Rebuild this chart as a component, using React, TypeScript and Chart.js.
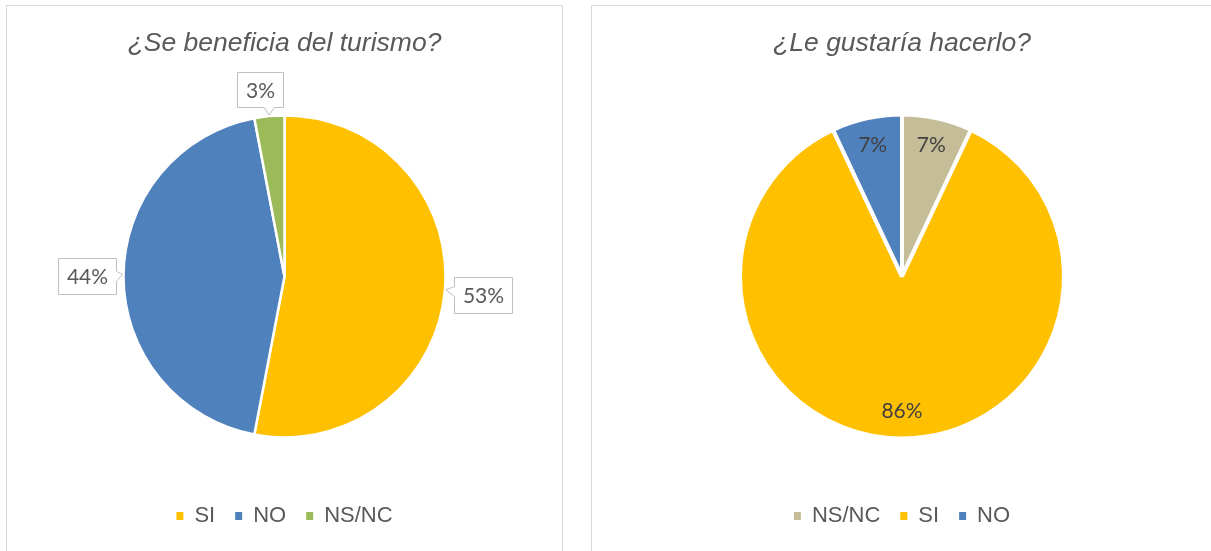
import React, { useEffect, useRef } from "react";
import { Chart, registerables } from "chart.js";

Chart.register(...registerables);

const leftTitle = "¿Se beneficia del turismo?";
const leftLabels = ["SI", "NO", "NS/NC"];
const leftValues = [53, 44, 3];
const leftColors = ["#FFC000", "#4F81BD", "#9BBB59"];

const rightTitle = "¿Le gustaría hacerlo?";
const rightLabels = ["NS/NC", "SI", "NO"];
const rightValues = [7, 86, 7];
const rightColors = ["#C4BD97", "#FFC000", "#4F81BD"];

const TEXT_GRAY = "#595959";
const LABEL_FONT = "21px Lato, 'Liberation Sans', sans-serif";

const calloutPlugin = {
  id: "calloutLabels",
  afterDatasetsDraw(chart: any) {
    const ctx = chart.ctx;
    const meta = chart.getDatasetMeta(0);
    const values = chart.data.datasets[0].data;
    ctx.save();
    ctx.font = LABEL_FONT;
    meta.data.forEach((arc: any, i: number) => {
      const p = arc.getProps(["x", "y", "startAngle", "endAngle", "outerRadius"], true);
      const mid = (p.startAngle + p.endAngle) / 2;
      const dx = Math.cos(mid);
      const dy = Math.sin(mid);
      const tipX = p.x + dx * (p.outerRadius + 1);
      const tipY = p.y + dy * (p.outerRadius + 1);
      const text = values[i] + "%";
      const tw = ctx.measureText(text).width;
      const w = Math.round(tw + 17);
      const horizontal = Math.abs(dx) > Math.abs(dy);
      const h = horizontal ? 36 : 35;
      const gap = horizontal ? 7 : 6;
      const proj = Math.abs(dx) * w / 2 + Math.abs(dy) * h / 2;
      let cx = tipX + dx * (gap + proj);
      const cy = tipY + dy * (gap + proj);
      if (!horizontal) cx += dx * w * 1.6;
      const x0 = Math.round(cx - w / 2) + 0.5;
      const y0 = Math.round(cy - h / 2) + 0.5;
      const x1 = x0 + w;
      const y1 = y0 + h;
      const nh = 5;
      ctx.beginPath();
      if (horizontal) {
        const ny = Math.min(Math.max(tipY, y0 + 8 + nh), y1 - 8 - nh);
        if (dx > 0) {
          ctx.moveTo(x0, y0);
          ctx.lineTo(x1, y0);
          ctx.lineTo(x1, y1);
          ctx.lineTo(x0, y1);
          ctx.lineTo(x0, ny + nh);
          ctx.lineTo(tipX, ny - 2);
          ctx.lineTo(x0, ny - nh);
        } else {
          ctx.moveTo(x0, y0);
          ctx.lineTo(x1, y0);
          ctx.lineTo(x1, ny - nh);
          ctx.lineTo(tipX, ny - 2);
          ctx.lineTo(x1, ny + nh);
          ctx.lineTo(x1, y1);
          ctx.lineTo(x0, y1);
        }
      } else {
        const nx = Math.min(Math.max(tipX, x0 + 8 + nh), x1 - 8 - nh);
        if (dy < 0) {
          ctx.moveTo(x0, y0);
          ctx.lineTo(x1, y0);
          ctx.lineTo(x1, y1);
          ctx.lineTo(nx + nh, y1);
          ctx.lineTo(nx, tipY);
          ctx.lineTo(nx - nh, y1);
          ctx.lineTo(x0, y1);
        } else {
          ctx.moveTo(x0, y0);
          ctx.lineTo(nx - nh, y0);
          ctx.lineTo(nx, tipY);
          ctx.lineTo(nx + nh, y0);
          ctx.lineTo(x1, y0);
          ctx.lineTo(x1, y1);
          ctx.lineTo(x0, y1);
        }
      }
      ctx.closePath();
      ctx.fillStyle = "#FFFFFF";
      ctx.fill();
      ctx.strokeStyle = "#BFBFBF";
      ctx.lineWidth = 1;
      ctx.stroke();
      ctx.fillStyle = TEXT_GRAY;
      ctx.textAlign = "center";
      ctx.textBaseline = "middle";
      ctx.fillText(text, (x0 + x1) / 2, (y0 + y1) / 2 + 1);
    });
    ctx.restore();
  },
};

const insidePlugin = {
  id: "insideLabels",
  afterDatasetsDraw(chart: any) {
    const ctx = chart.ctx;
    const meta = chart.getDatasetMeta(0);
    const values = chart.data.datasets[0].data;
    ctx.save();
    ctx.font = LABEL_FONT;
    ctx.fillStyle = "#404040";
    ctx.textAlign = "center";
    ctx.textBaseline = "middle";
    meta.data.forEach((arc: any, i: number) => {
      const p = arc.getProps(["x", "y", "startAngle", "endAngle", "outerRadius"], true);
      const mid = (p.startAngle + p.endAngle) / 2;
      const r = p.outerRadius * 0.83;
      ctx.fillText(values[i] + "%", p.x + Math.cos(mid) * r, p.y + Math.sin(mid) * r);
    });
    ctx.restore();
  },
};

function makeConfig(title: string, labels: string[], values: number[], colors: string[], border: number, radius: number, plugin: any) {
  return {
    type: "doughnut" as const,
    data: {
      labels,
      datasets: [
        {
          data: values,
          backgroundColor: colors,
          borderColor: "#FFFFFF",
          borderWidth: border,
          radius,
          cutout: 0,
          hoverOffset: 0,
        },
      ],
    },
    options: {
      responsive: false,
      animation: false as const,
      events: [],
      layout: { padding: { bottom: 14 } },
      plugins: {
        tooltip: { enabled: false },
        title: {
          display: true,
          text: title,
          color: TEXT_GRAY,
          font: { family: "'Liberation Sans', Arial, sans-serif", size: 26.5, style: "italic" as const, weight: "normal" as const },
          padding: { top: 22, bottom: 8 },
        },
        legend: {
          display: true,
          position: "bottom" as const,
          labels: {
            color: TEXT_GRAY,
            font: { family: "'Liberation Sans', Arial, sans-serif", size: 22 },
            boxWidth: 7,
            boxHeight: 8,
            padding: 20,
            generateLabels: (chart: any) => {
              const base = (Chart as any).overrides.doughnut.plugins.legend.labels.generateLabels(chart);
              return base.map((l: any) => ({ ...l, lineWidth: 0, strokeStyle: "rgba(0,0,0,0)" }));
            },
          },
        },
      },
    },
    plugins: [plugin],
  };
}

function PiePanel(props: { left: number; width: number; cfg: any }) {
  const ref = useRef<HTMLCanvasElement>(null);
  useEffect(() => {
    const chart = new Chart(ref.current as HTMLCanvasElement, props.cfg);
    return () => chart.destroy();
  }, []);
  const cw = props.width - 2;
  return (
    <div
      style={{
        position: "absolute",
        left: props.left,
        top: 5,
        width: props.width,
        height: 560,
        border: "1px solid #D9D9D9",
        boxSizing: "border-box",
        background: "#FFFFFF",
      }}
    >
      <canvas ref={ref} width={cw} height={545} style={{ display: "block", width: cw, height: 545 }} />
    </div>
  );
}

export default function App() {
  const leftCfg = makeConfig(leftTitle, leftLabels, leftValues, leftColors, 2.5, 161, calloutPlugin);
  const rightCfg = makeConfig(rightTitle, rightLabels, rightValues, rightColors, 4, 162, insidePlugin);
  return (
    <div
      style={{
        position: "fixed",
        left: 0,
        top: 0,
        width: 1211,
        height: 551,
        overflow: "hidden",
        background: "#FFFFFF",
      }}
    >
      <PiePanel left={6} width={557} cfg={leftCfg} />
      <PiePanel left={591} width={622} cfg={rightCfg} />
    </div>
  );
}
